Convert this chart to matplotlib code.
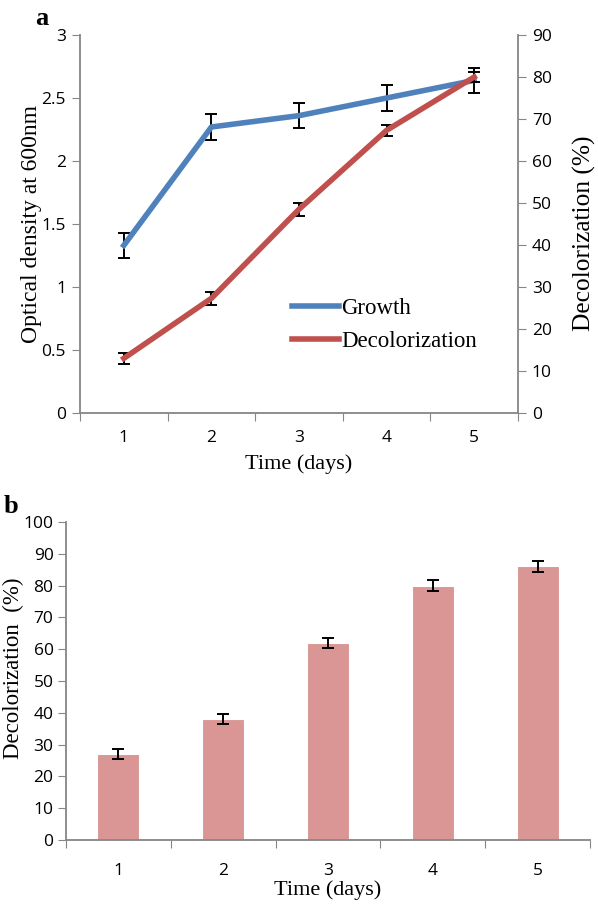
import matplotlib
matplotlib.use("Agg")
import matplotlib.pyplot as plt
from matplotlib.lines import Line2D
import numpy as np

days = [1, 2, 3, 4, 5]
day_labels = ["1", "2", "3", "4", "5"]

# panel a
growth_od = [1.33, 2.27, 2.36, 2.50, 2.64]
growth_err = [0.10, 0.10, 0.10, 0.10, 0.10]
decol_line = [13.0, 27.3, 48.5, 67.3, 80.0]
decol_line_err = [1.3, 1.5, 1.5, 1.3, 1.3]

# panel b
decol_bar = [27, 38, 62, 80, 86]
decol_bar_err = [1.5, 1.6, 1.6, 1.7, 1.6]

tick_font = "Open Sans"
label_font = "Liberation Serif"
spine_col = "#868686"
blue = "#4F81BD"
red = "#C0504D"
bar_col = "#D99694"


def style_category_axis(ax, n, pad):
    # Excel style: ticks between categories, labels at centres
    ax.set_xlim(0.5, n + 0.5)
    ax.set_xticks(np.arange(0.5, n + 1, 1.0))
    ax.set_xticklabels([])
    ax.set_xticks(days, minor=True)
    ax.set_xticklabels(day_labels, minor=True, fontfamily=tick_font, fontsize=12.5)
    ax.tick_params(axis="x", which="major", length=6, color=spine_col, direction="out")
    ax.tick_params(axis="x", which="minor", length=0, pad=pad)


fig = plt.figure(figsize=(5.98, 9.07), dpi=100)

# ---- panel a ----
ax = fig.add_axes([0.1338, 0.5447, 0.7324, 0.4167])
ax2 = ax.twinx()

ax.errorbar(days, growth_od, yerr=growth_err, color=blue, lw=4, ecolor="black",
            elinewidth=1.4, capsize=4, capthick=1.4, zorder=3)
ax2.errorbar(days, decol_line, yerr=decol_line_err, color=red, lw=4, ecolor="black",
             elinewidth=1.4, capsize=4, capthick=1.4, zorder=3)

ax.set_ylim(0, 3)
ax.set_yticks(np.arange(0, 3.01, 0.5))
ax.set_yticklabels(["0", "0.5", "1", "1.5", "2", "2.5", "3"], fontfamily=tick_font, fontsize=12.5)
ax2.set_ylim(0, 90)
ax2.set_yticks(np.arange(0, 91, 10))
ax2.set_yticklabels([str(v) for v in range(0, 91, 10)], fontfamily=tick_font, fontsize=12.5)
style_category_axis(ax, 5, 12)

for a in (ax, ax2):
    for s in a.spines.values():
        s.set_visible(False)
ax.spines["left"].set_visible(True)
ax.spines["bottom"].set_visible(True)
ax2.spines["right"].set_visible(True)
for s in (ax.spines["left"], ax.spines["bottom"], ax2.spines["right"]):
    s.set_color(spine_col)
    s.set_linewidth(1.3)
ax.tick_params(axis="y", length=6, color=spine_col, pad=4)
ax2.tick_params(axis="y", length=6, color=spine_col, pad=4)

ax.set_ylabel("Optical density at 600nm", fontfamily=label_font, fontsize=17, labelpad=0)
ax2.set_ylabel("Decolorization (%)", fontfamily=label_font, fontsize=18.3)
ax2.yaxis.set_label_coords(1.125, 0.476)
ax.set_xlabel("Time (days)", fontfamily=label_font, fontsize=16, labelpad=6)

handles = [Line2D([], [], color=blue, lw=4), Line2D([], [], color=red, lw=4)]
ax2.legend(handles, ["Growth", "Decolorization"], loc="center left",
           bbox_to_anchor=(0.437, 0.233), frameon=False, handlelength=2.05,
           handletextpad=0.1, labelspacing=0.55,
           prop={"family": label_font, "size": 16.5})

fig.text(0.07, 0.98, "a", fontfamily=label_font, fontweight="bold", fontsize=19,
         ha="center", va="center")

# ---- panel b ----
bx = fig.add_axes([0.1104, 0.0739, 0.8762, 0.3506])
bx.bar(days, decol_bar, width=0.4, color=bar_col, edgecolor="white", linewidth=0.8, zorder=2)
bx.errorbar(days, decol_bar, yerr=decol_bar_err, fmt="none", ecolor="black",
            elinewidth=1.4, capsize=4, capthick=1.4, zorder=3)
bx.set_ylim(0, 100)
bx.set_yticks(np.arange(0, 101, 10))
bx.set_yticklabels([str(v) for v in range(0, 101, 10)], fontfamily=tick_font, fontsize=12.5)
style_category_axis(bx, 5, 16.5)
for s in ("top", "right"):
    bx.spines[s].set_visible(False)
for s in ("left", "bottom"):
    bx.spines[s].set_color(spine_col)
    bx.spines[s].set_linewidth(1.3)
bx.tick_params(axis="y", length=6, color=spine_col, pad=3)
bx.set_ylabel("Decolorization  (%)", fontfamily=label_font, fontsize=16.5)
bx.yaxis.set_label_coords(-0.08, 0.54)
bx.set_xlabel("Time (days)", fontfamily=label_font, fontsize=16, labelpad=1)

fig.text(0.018, 0.442, "b", fontfamily=label_font, fontweight="bold", fontsize=19,
         ha="center", va="center")

fig.savefig("out.png", dpi=100)
